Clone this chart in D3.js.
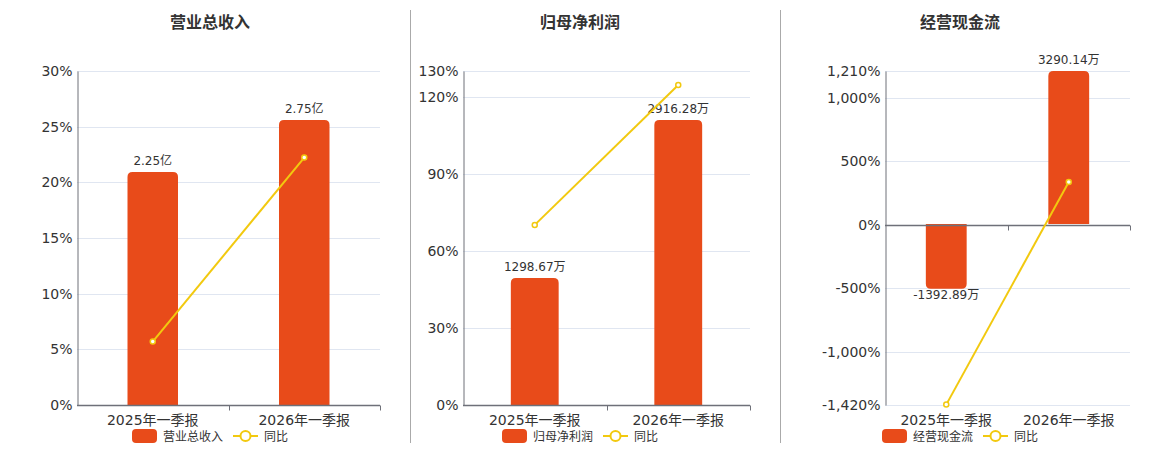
<!DOCTYPE html>
<html><head><meta charset="utf-8">
<script src="https://cdn.jsdelivr.net/npm/d3@7/dist/d3.min.js"></script>
<style>body{margin:0;background:#fff;}svg{display:block;font-family:"DejaVu Sans","Noto Sans CJK SC",sans-serif;}</style>
</head><body>
<svg id="c" width="1160" height="450"></svg>
<script>
const categories = ["2025年一季报", "2026年一季报"];
const titles = ["营业总收入", "归母净利润", "经营现金流"];
const barValues = [[2.25, 2.75], [1298.67, 2916.28], [-1392.89, 3290.14]];
const barLabels = [["2.25亿", "2.75亿"], ["1298.67万", "2916.28万"], ["-1392.89万", "3290.14万"]];
const yoyValues = [[5.7, 22.22], [70.1, 124.56], [-1417, 336.2]];
const yTicks = [[0, 5, 10, 15, 20, 25, 30], [0, 30, 60, 90, 120, 130], [-1420, -1000, -500, 0, 500, 1000, 1210]];
const yDomains = [[0, 30], [0, 130], [-1420, 1210]];
const barDomains = [[0, 3.224], [0, 3417.6], [-3892, 3290.14]];

const layout = [
  {left: 77, right: 380, center: 210},
  {left: 463, right: 750, center: 580},
  {left: 885, right: 1130, center: 960}
];
const plotTop = 71, plotBottom = 405;
const barColor = "#e84b1a", lineColor = "#f2c90f", gridColor = "#e0e6f1", axisColor = "#6e7079", textColor = "#333";
const svg = d3.select("#c");

// separators
[410, 780].forEach(x => svg.append("line").attr("x1", x + 0.5).attr("x2", x + 0.5).attr("y1", 10).attr("y2", 443)
  .attr("stroke", "#aaa").attr("stroke-width", 1));

const fmt = d3.formatLocale({decimal: ".", thousands: ",", grouping: [3], currency: ["", ""], minus: "-"}).format(",");
titles.forEach((t, i) => {
  const L = layout[i];
  const g = svg.append("g");
  const x = d3.scaleBand().domain(categories).range([L.left, L.right]);
  const y = d3.scaleLinear().domain(yDomains[i]).range([plotBottom, plotTop]);
  const yb = d3.scaleLinear().domain(barDomains[i]).range([plotBottom, plotTop]);

  g.append("text").attr("x", L.center).attr("y", 28).attr("text-anchor", "middle")
    .attr("font-size", 16).attr("font-weight", "bold").attr("fill", textColor)
    .attr("font-family", "Noto Sans CJK SC").text(t);

  // grid
  g.selectAll(".grid").data(yTicks[i]).join("line")
    .attr("x1", L.left).attr("x2", L.right)
    .attr("y1", d => Math.round(y(d)) + 0.5).attr("y2", d => Math.round(y(d)) + 0.5)
    .attr("stroke", gridColor).attr("stroke-width", 1);

  // y axis
  const ya = d3.axisLeft(y).tickValues(yTicks[i]).tickSize(0).tickPadding(5).tickFormat(d => fmt(d) + "%");
  const yg = g.append("g").attr("transform", `translate(${L.left + 0.5},0)`).call(ya);
  yg.select(".domain").attr("stroke", axisColor);
  yg.selectAll("text").attr("font-size", 14).attr("fill", textColor).attr("font-family", "DejaVu Sans");

  // bars
  const bw = x.bandwidth() / 3;
  const r = 5;
  g.selectAll(".bar").data(barValues[i]).join("path")
    .attr("fill", barColor)
    .attr("d", (d, j) => {
      const cx = x(categories[j]) + x.bandwidth() / 2;
      const x0 = cx - bw / 2, x1 = cx + bw / 2;
      const y0 = yb(0), y1 = yb(d);
      if (d >= 0) {
        return `M${x0},${y0}L${x0},${y1 + r}Q${x0},${y1} ${x0 + r},${y1}L${x1 - r},${y1}Q${x1},${y1} ${x1},${y1 + r}L${x1},${y0}Z`;
      } else {
        return `M${x0},${y0}L${x0},${y1 - r}Q${x0},${y1} ${x0 + r},${y1}L${x1 - r},${y1}Q${x1},${y1} ${x1},${y1 - r}L${x1},${y0}Z`;
      }
    });

  // bar labels
  g.selectAll(".bl").data(barValues[i]).join("text")
    .attr("x", (d, j) => x(categories[j]) + x.bandwidth() / 2)
    .attr("y", d => d >= 0 ? yb(d) - 7 : yb(d) + 10)
    .attr("text-anchor", "middle").attr("font-size", 12).attr("fill", textColor)
    .text((d, j) => barLabels[i][j]);

  // x axis
  const xaY = yDomains[i][0] < 0 ? y(0) : plotBottom;
  const xa = g.append("g").attr("transform", `translate(0,${Math.round(xaY) + 0.5})`);
  xa.append("line").attr("x1", L.left).attr("x2", L.right).attr("stroke", axisColor).attr("stroke-width", 1.5);
  [x(categories[1]), L.right].forEach(tx => xa.append("line").attr("x1", Math.round(tx) + 0.5).attr("x2", Math.round(tx) + 0.5)
    .attr("y1", 0).attr("y2", 5).attr("stroke", axisColor));
  g.selectAll(".xl").data(categories).join("text")
    .attr("x", d => x(d) + x.bandwidth() / 2).attr("y", 425)
    .attr("text-anchor", "middle").attr("font-size", 14).attr("fill", textColor).text(d => d);

  // line
  const line = d3.line().x((d, j) => x(categories[j]) + x.bandwidth() / 2).y(d => y(d));
  g.append("path").datum(yoyValues[i]).attr("d", line).attr("fill", "none")
    .attr("stroke", lineColor).attr("stroke-width", 2);
  g.selectAll(".pt").data(yoyValues[i]).join("circle")
    .attr("cx", (d, j) => x(categories[j]) + x.bandwidth() / 2).attr("cy", d => y(d))
    .attr("r", 2.5).attr("fill", "#fff").attr("stroke", lineColor).attr("stroke-width", 1.5);

  // legend
  const lx = L.center - 78;
  const lg = g.append("g");
  lg.append("rect").attr("x", lx).attr("y", 429).attr("width", 25).attr("height", 14).attr("rx", 4).attr("fill", barColor);
  lg.append("text").attr("x", lx + 31).attr("y", 440.5).attr("font-size", 12).attr("fill", textColor)
    .attr("font-family", "Noto Sans CJK SC").text(t);
  lg.append("line").attr("x1", lx + 101).attr("x2", lx + 126).attr("y1", 436).attr("y2", 436)
    .attr("stroke", lineColor).attr("stroke-width", 2);
  lg.append("circle").attr("cx", lx + 113.5).attr("cy", 436).attr("r", 5).attr("fill", "#fff")
    .attr("stroke", lineColor).attr("stroke-width", 2);
  lg.append("text").attr("x", lx + 132).attr("y", 440.5).attr("font-size", 12).attr("fill", textColor)
    .attr("font-family", "Noto Sans CJK SC").text("同比");
});
</script>
</body></html>
